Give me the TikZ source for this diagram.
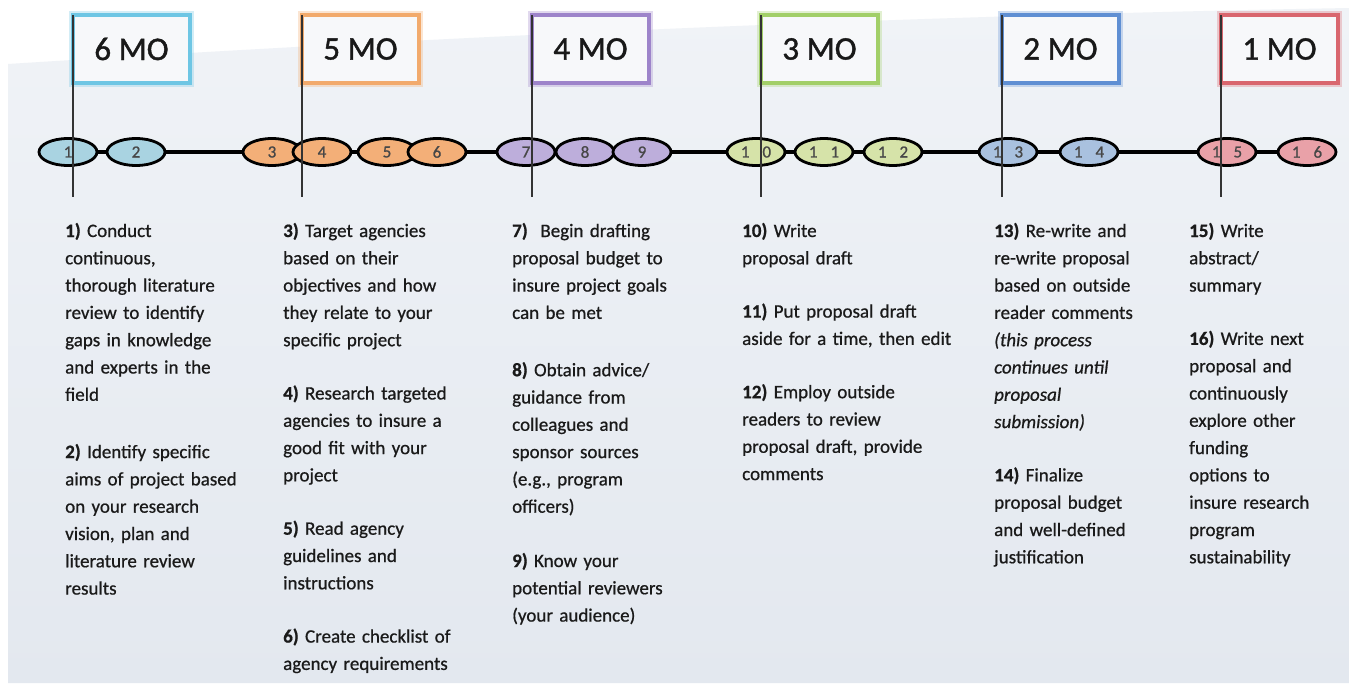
\documentclass[tikz,border=0pt]{standalone}
\usepackage{fontspec}
\setmainfont{Carlito}
\newfontfamily\bodyfont{Carlito}[FakeBold=0.7]
\newfontfamily\labfont{Carlito}[FakeBold=1.2]
\newfontfamily\numfont{Carlito}[FakeBold=0.9]
\usetikzlibrary{shapes.geometric}
\definecolor{bgA}{HTML}{F0F3F7}
\definecolor{bgB}{HTML}{E3E8EF}
\definecolor{boxfill}{HTML}{F7F8FA}
\definecolor{txt}{HTML}{1A1A1A}
\definecolor{cA}{HTML}{6EC6E4}\definecolor{fA}{HTML}{A9D3E1}
\definecolor{cB}{HTML}{F2AA6C}\definecolor{fB}{HTML}{F3AF78}
\definecolor{cC}{HTML}{9D84CA}\definecolor{fC}{HTML}{BDAEDB}
\definecolor{cD}{HTML}{A2CF68}\definecolor{fD}{HTML}{D6E3A9}
\definecolor{cE}{HTML}{5F8FD3}\definecolor{fE}{HTML}{A9C1DF}
\definecolor{cF}{HTML}{D9666E}\definecolor{fF}{HTML}{E9A1A8}
\begin{document}
\begin{tikzpicture}[x=1pt,y=-1pt,
  mbox/.style={draw=#1, line width=3.5pt, fill=boxfill, outer sep=0pt,
    minimum width=117pt, minimum height=68pt, inner sep=0pt,
    font=\labfont\fontsize{33}{33}\selectfont, text=black!90,
    preaction={draw=#1, line width=8pt, draw opacity=0.3}},
  ov/.style={ellipse, draw=black, line width=2.8pt, fill=#1,
    minimum width=58pt, minimum height=27pt, inner sep=0pt,
    font=\numfont\fontsize{17}{17}\selectfont, text=black!72},
  vline/.style={draw=black!80, line width=1.3pt},
  tline/.style={draw=black, line width=4pt},
  col/.style={text width=225pt, align=left, inner sep=0pt, anchor=base west,
    font=\bodyfont\fontsize{19}{27.3}\selectfont, text=txt}]
\useasboundingbox (0,0) rectangle (1349,683);
\fill[white] (0,0) rectangle (1349,683);
\shade[top color=bgA,bottom color=bgB] (8,64) .. controls (450,36) and (900,16) .. (1349,8) -- (1349,683) -- (8,683) -- cycle;

% timeline
\foreach \n/\x in {1/68,2/136,3/272,4/322,5/387,6/437,7/526,8/585,9/642,10/756,11/824,12/893,13/1008,14/1089,15/1227,16/1307}
  \coordinate (c\n) at (\x,152);
\draw[tline] (c1) -- (c16);

% ellipses
\newcommand\twod[2]{#1\hspace{13pt}#2}
\node[ov=fA] (e1) at (c1) {1};
\node[ov=fA] (e2) at (c2) {2};
\node[ov=fB] (e3) at (c3) {3};
\node[ov=fB] (e4) at (c4) {4};
\node[ov=fB] (e5) at (c5) {5};
\node[ov=fB] (e6) at (c6) {6};
\node[ov=fC] (e7) at (c7) {7};
\node[ov=fC] (e8) at (c8) {8};
\node[ov=fC] (e9) at (c9) {9};
\node[ov=fD] (e10) at (c10) {\twod{1}{0}};
\node[ov=fD] (e11) at (c11) {\twod{1}{1}};
\node[ov=fD] (e12) at (c12) {\twod{1}{2}};
\node[ov=fE] (e13) at (c13) {\twod{1}{3}};
\node[ov=fE] (e14) at (c14) {\twod{1}{4}};
\node[ov=fF] (e15) at (c15) {\twod{1}{5}};
\node[ov=fF] (e16) at (c16) {\twod{1}{6}};

% month boxes
\node[mbox=cA] (m6) at (131.5,49) {6 MO};
\node[mbox=cB] (m5) at (360.5,49) {5 MO};
\node[mbox=cC] (m4) at (590.5,49) {4 MO};
\node[mbox=cD] (m3) at (819.5,49) {3 MO};
\node[mbox=cE] (m2) at (1060.5,49) {2 MO};
\node[mbox=cF] (m1) at (1279.5,49) {1 MO};

% vertical markers
\coordinate (v6) at (73,197);
\coordinate (v5) at (302,197);
\coordinate (v4) at (532,197);
\coordinate (v3) at (761,197);
\coordinate (v2) at (1002,197);
\coordinate (v1) at (1221,197);
\draw[vline] (m6.north west) -- (v6);
\draw[vline] (m5.north west) -- (v5);
\draw[vline] (m4.north west) -- (v4);
\draw[vline] (m3.north west) -- (v3);
\draw[vline] (m2.north west) -- (v2);
\draw[vline] (m1.north west) -- (v1);

% text columns
\node[col] (t1) at (65,237) {\textbf{1)} Conduct\\
continuous,\\
thorough literature\\
review to identify\\
gaps in knowledge\\
and experts in the\\
field\\[30pt]
\textbf{2)} Identify specific\\
aims of project based\\
on your research\\
vision, plan and\\
literature review\\
results};

\node[col] (t2) at (283,237) {\textbf{3)} Target agencies\\
based on their\\
objectives and how\\
they relate to your\\
specific project\\[26pt]
\textbf{4)} Research targeted\\
agencies to insure a\\
good fit with your\\
project\\[26pt]
\textbf{5)} Read agency\\
guidelines and\\
instructions\\[26pt]
\textbf{6)} Create checklist of\\
agency requirements};

\node[col] (t3) at (512,237) {\textbf{7)}\ \ Begin drafting\\
proposal budget to\\
insure project goals\\
can be met\\[30pt]
\textbf{8)} Obtain advice/\\
guidance from\\
colleagues and\\
sponsor sources\\
(e.g., program\\
officers)\\[27pt]
\textbf{9)} Know your\\
potential reviewers\\
(your audience)};

\node[col] (t4) at (742,237) {\textbf{10)} Write\\
proposal draft\\[26pt]
\textbf{11)} Put proposal draft\\
aside for a time, then edit\\[26pt]
\textbf{12)} Employ outside\\
readers to review\\
proposal draft, provide\\
comments};

\node[col] (t5) at (994,237) {\textbf{13)} Re-write and\\
re-write proposal\\
based on outside\\
reader comments\\
\textit{(this process}\\
\textit{continues until}\\
\textit{proposal}\\
\textit{submission)}\\[26pt]
\textbf{14)} Finalize\\
proposal budget\\
and well-defined\\
justification};

\node[col] (t6) at (1189,237) {\textbf{15)} Write\\
abstract/\\
summary\\[26pt]
\textbf{16)} Write next\\
proposal and\\
continuously\\
explore other\\
funding\\
options to\\
insure research\\
program\\
sustainability};
\end{tikzpicture}
\end{document}
